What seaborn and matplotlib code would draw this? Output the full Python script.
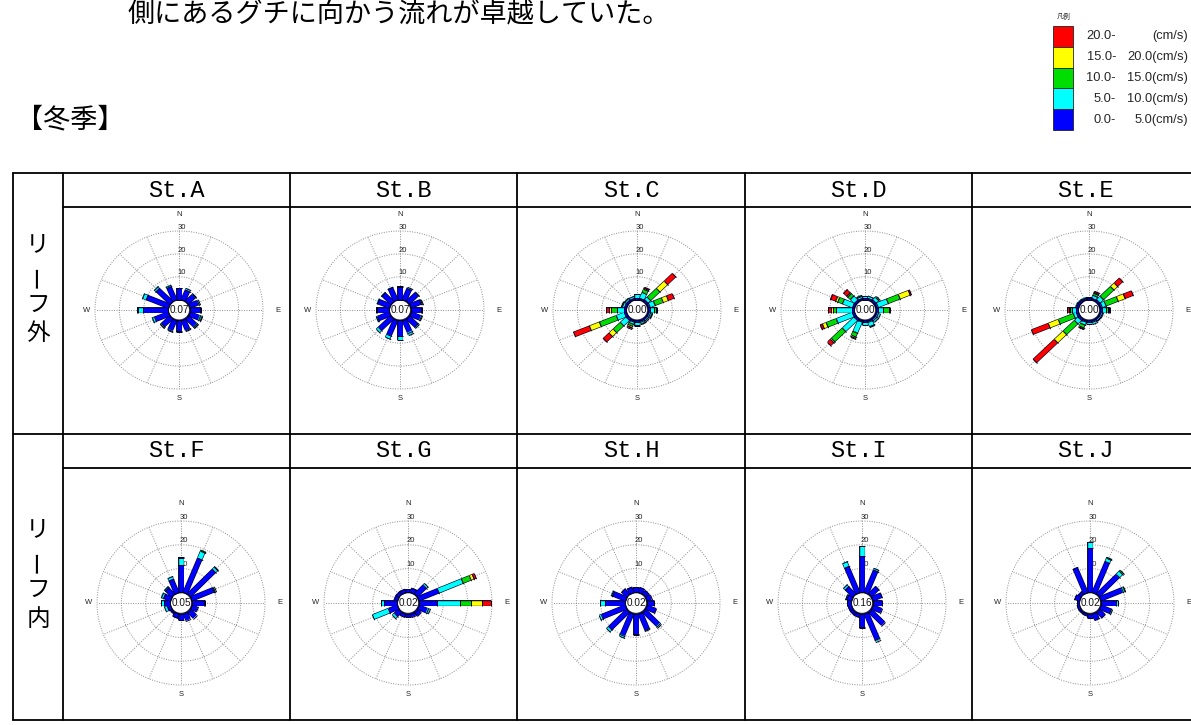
import numpy as np
import pandas as pd
import seaborn as sns
import matplotlib
matplotlib.use("Agg")
import matplotlib.pyplot as plt
from matplotlib import patheffects as pe
from matplotlib.lines import Line2D
from matplotlib.patches import Rectangle

# ---------------- data ----------------
directions = ["N", "NNE", "NE", "ENE", "E", "ESE", "SE", "SSE",
              "S", "SSW", "SW", "WSW", "W", "WNW", "NW", "NNW"]
speed_classes = ["0.0-5.0", "5.0-10.0", "10.0-15.0", "15.0-20.0", "20.0-"]
legend_left = ["20.0-", "15.0-", "10.0-", "5.0-", "0.0-"]
legend_right = ["(cm/s)", "20.0(cm/s)", "15.0(cm/s)", "10.0(cm/s)", "5.0(cm/s)"]
stations = ["St.A", "St.B", "St.C", "St.D", "St.E",
            "St.F", "St.G", "St.H", "St.I", "St.J"]
calm_values = ["0.07", "0.07", "0.00", "0.00", "0.00",
               "0.05", "0.02", "0.02", "0.16", "0.02"]
row_labels = ["リーフ外", "リーフ内"]
rtick_values = [10, 20, 30]

Z = [0] * 16
st_a = [[4.9, 4.7, 4.0, 3.8, 4.1, 4.3, 4.8, 4.7, 4.7, 4.8, 4.9, 6.0, 10.1, 9.9, 8.0, 6.2],
        [.4, .5, .5, .5, .6, .8, .6, .3, .3, .4, .5, 1.2, 2.4, 1.6, 1.0, .8],
        [0, 0, 0, 0, 0, .2, .1, 0, 0, 0, .1, 0, .1, 0, 0, 0], Z, Z]
st_b = [[5.7, 5.3, 5.2, 4.6, 4.0, 4.4, 5.0, 5.7, 6.8, 7.3, 7.1, 5.2, 4.8, 5.2, 5.1, 5.7],
        [.4, .4, .4, .4, .5, .6, .6, 1.2, 1.6, 1.6, 1.2, .6, .4, .3, .3, .3],
        [0, 0, 0, .1, .1, 0, 0, 0, 0, 0, 0, 0, 0, 0, 0, 0], Z, Z]
st_c = [[.8] * 16,
        [1.5, 2.5, 1.6, 2.2, 1.8, .8, .6, .8, 1.2, 1.0, 3.5, 3.7, 3.0, 1.0, .8, .8],
        [.4, 1.5, 5.4, 3.5, .5, .2, 0, .2, .3, 1.0, 4.0, 7.5, 2.2, .3, .2, 0],
        [0, .6, 4.6, 2.5, .4, 0, 0, 0, 0, .5, 2.5, 4.4, 1.0, 0, 0, 0],
        [0, .4, 4.6, 2.5, .3, 0, 0, 0, 0, .5, 3.5, 6.9, 1.3, 0, 0, 0]]
st_d = [[.8] * 16,
        [.6, 1.0, 1.8, 4.6, 2.0, 1.0, 1.0, 2.0, 1.2, 5.0, 6.8, 7.3, 6.5, 4.5, 2.5, 1.0],
        [0, 0, .2, 5.4, 2.6, 0, 0, .3, 0, 2.0, 6.6, 4.5, 1.2, 2.0, 1.5, .3],
        [0, 0, 0, 4.3, 0, 0, 0, 0, 0, .6, .5, 1.5, 1.0, 1.0, .3, 0],
        [0, 0, 0, .6, .5, 0, 0, 0, 0, .2, 1.5, 1.0, 1.0, 2.3, 2.0, 0]]
st_e = [[.8] * 16,
        [.5, 1.5, 2.0, 1.9, 1.5, .5, .5, .8, .8, 1.2, 2.1, 1.2, 1.5, .5, .4, .4],
        [0, .8, 6.0, 5.3, 1.0, 0, 0, 0, 0, 1.5, 6.8, 6.7, 1.2, 0, 0, 0],
        [0, .3, 2.4, 3.0, .3, 0, 0, 0, 0, .3, 5.2, 4.5, .4, 0, 0, 0],
        [0, .5, 3.0, 3.7, .5, 0, 0, 0, 0, .4, 12.2, 7.5, .6, 0, 0, 0]]
st_f = [[11.3, 15.7, 14.7, 9.8, 4.8, 2.6, 3.6, 3.1, 2.5, 2.0, 1.0, 1.5, 2.5, 3.0, 3.8, 6.2],
        [3.1, 3.0, 1.2, .4, .7, 0, 0, 0, 0, 0, 0, 1.0, 1.2, 1.0, .5, 1.0],
        [.6, .6, .2, .2, 0, 0, 0, 0, 0, 0, 0, 0, 0, 0, 0, 0], Z, Z]
st_g = [[1.5, 2.0, 5.2, 9.0, 7.4, 3.8, 2.0, 1.5, 1.5, 1.5, 2.5, 3.8, 5.3, 1.5, 1.5, 1.5],
        [0, 0, .9, 10.5, 9.3, 1.0, 0, 0, 0, 0, 1.1, 7.1, 1.2, 0, 0, 0],
        [0, 0, 0, 3.4, 4.8, 0, 0, 0, 0, 0, 0, 0, 0, 0, 0, 0],
        [0, 0, 0, 1.5, 4.4, 0, 0, 0, 0, 0, 0, 0, 0, 0, 0, 0],
        [0, 0, 0, 1.0, 3.8, 0, 0, 0, 0, 0, 0, 0, 0, 0, 0, 0]]
st_h = [[2.1, 2.2, 2.0, 2.0, 2.8, 4.1, 8.3, 7.5, 8.6, 10.0, 10.6, 10.5, 8.4, 5.8, 3.0, 2.5],
        [0, 0, 0, 0, 0, 0, .6, .2, .3, 1.0, 1.0, 1.0, 2.0, .5, 0, 0], Z, Z, Z]
st_i = [[15.2, 10.3, 4.5, 4.1, 3.7, 4.0, 7.8, 12.0, 5.6, 1.5, 1.5, 1.5, 1.8, 2.0, 4.5, 12.0],
        [4.3, .7, 0, 0, 0, 0, 0, .6, .6, 0, 0, 0, 0, .4, .9, 2.0], Z, Z, Z]
st_j = [[18.8, 14.0, 11.5, 9.6, 6.0, 4.6, 3.3, 3.0, 1.8, 1.0, 1.0, 1.0, 1.0, 2.0, 1.5, 11.4],
        [2.5, 1.5, 2.0, .8, 1.1, .4, 0, 0, 0, 0, 0, 0, 0, 0, 0, 0],
        [0, .5, .6, .4, 0, 0, 0, 0, 0, 0, 0, 0, 0, 0, 0, 0], Z, Z]
station_data = [st_a, st_b, st_c, st_d, st_e, st_f, st_g, st_h, st_i, st_j]

records = []
for s, arr in zip(stations, station_data):
    for k, cls in enumerate(speed_classes):
        for d, dname in enumerate(directions):
            records.append((s, dname, d, k, cls, arr[k][d]))
df = pd.DataFrame(records, columns=["station", "dir", "dir_idx", "cls_idx", "cls", "pct"])

# ---------------- style ----------------
sns.set_theme(style="white")
plt.rcParams["font.family"] = ["Noto Sans CJK JP", "DejaVu Sans"]
palette = sns.color_palette(["#0000FF", "#00FFFF", "#00DD00", "#FFFF00", "#FF0000"])
EDGE = "#000020"
GRID = "#8c8c8c"

W, H = 1191, 725
fig = plt.figure(figsize=(W / 100, H / 100), dpi=100)
fig.patch.set_facecolor("white")


def fx(x):
    return x / W


def fy(y):
    return 1 - y / H


# ---------------- table frame ----------------
def hline(y, x0, x1, lw=1.3):
    fig.add_artist(Line2D([fx(x0), fx(x1)], [fy(y), fy(y)], color="black", lw=lw))


def vline(x, y0, y1, lw=1.3):
    fig.add_artist(Line2D([fx(x), fx(x)], [fy(y0), fy(y1)], color="black", lw=lw))


hline(173, 13, 1191)
hline(207, 63, 1191)
hline(434, 13, 1191)
hline(468, 63, 1191)
hline(720, 13, 1191)
vline(13, 173, 720)
for xv in [63, 290, 517, 745, 972]:
    vline(xv, 173, 720)

# texts
fig.text(fx(128), fy(14), "側にあるグチに向かう流れが卓越していた。", fontsize=19.5,
         ha="left", va="center", color="black")
fig.text(fx(16), fy(120), "【冬季】", fontsize=19.5, ha="left", va="center", color="black")

col_centers = [176.5, 403.5, 631, 858.5, 1085]
header_y = [190, 451]
for i, s in enumerate(stations):
    r, c = divmod(i, 5)
    fig.text(fx(col_centers[c]), fy(header_y[r]), s, fontsize=17, ha="center", va="center",
             family="Liberation Mono", color="black")

char_y = [[245, 276, 305, 334], [530, 561, 590, 619]]
for r, lab in enumerate(row_labels):
    for ch, yy in zip(lab, char_y[r]):
        rot = 90 if ch == "ー" else 0
        fig.text(fx(38), fy(yy), ch, fontsize=17, ha="center", va="center",
                 rotation=rot, color="black")

# ---------------- legend ----------------
fig.text(fx(1064), fy(17), "凡例", fontsize=5, ha="center", va="center")
leg_colors = list(palette)[::-1]
for i in range(5):
    y0 = 26 + i * 20.8
    fig.add_artist(Rectangle((fx(1053), fy(y0 + 20.8)), fx(20), 20.8 / H,
                             facecolor=leg_colors[i], edgecolor="#222222", lw=0.6))
    yc = y0 + 10.4
    fig.text(fx(1116), fy(yc), legend_left[i], fontsize=9.3, ha="right", va="center",
             family="Liberation Sans")
    fig.text(fx(1188), fy(yc), legend_right[i], fontsize=9.3, ha="right", va="center",
             family="Liberation Sans")

# ---------------- roses ----------------
HOLE = 4.5
HW = 84
centers = [(179, 310), (400, 310), (637, 310), (865, 310), (1089, 310),
           (181, 603), (408, 603), (636, 603), (862, 603), (1090, 603)]
half_h = [79, 82]
theta_dirs = np.deg2rad(np.arange(16) * 22.5)
full = np.linspace(0, 2 * np.pi, 361)

for i, s in enumerate(stations):
    cx, cy = centers[i]
    hh = half_h[i // 5]
    ax = fig.add_axes([fx(cx - HW), fy(cy + hh), 2 * HW / W, 2 * hh / H], projection="polar")
    ax.set_theta_zero_location("N")
    ax.set_theta_direction(-1)
    ax.set_rorigin(-HOLE)
    ax.set_ylim(0, 30)
    ax.set_aspect("auto")
    ax.set_facecolor("none")
    ax.spines["polar"].set_visible(False)
    ax.set_xticks(theta_dirs)
    ax.set_xticklabels([])
    ax.set_yticks([])
    ax.xaxis.grid(True, color=GRID, ls=(0, (1, 1.5)), lw=0.7)
    for rv in rtick_values:
        ax.plot(full, np.full_like(full, rv), color=GRID, ls=(0, (1, 1.5)), lw=0.7,
                clip_on=False, zorder=1)
        ax.annotate(str(rv), xy=(0, rv), xytext=(1.8, 2.8), textcoords="offset points",
                    ha="center", va="center", fontsize=5.5, family="Liberation Sans",
                    color="#222222")

    sub = df[df.station == s]
    for d, grp in sub.groupby("dir_idx"):
        th = theta_dirs[d]
        vals = grp.sort_values("cls_idx")["pct"].to_numpy()
        cum = np.concatenate([[0], np.cumsum(vals)])
        bounds = [0.0]
        for k, v in enumerate(vals):
            if v <= 0:
                continue
            ax.plot([th, th], [cum[k], cum[k + 1]], color=palette[k], lw=3.3,
                    solid_capstyle="butt", zorder=3, clip_on=False,
                    path_effects=[pe.Stroke(linewidth=4.2, foreground=EDGE), pe.Normal()])
            bounds.append(cum[k + 1])
        rot = 90 - np.rad2deg(th)
        ax.plot([th] * len(bounds), bounds, ls="none", marker=(2, 0, rot), ms=4.2,
                mew=0.7, mec=EDGE, zorder=4, clip_on=False)

    ax.text(0.5, 0.5, calm_values[i], transform=ax.transAxes, ha="center", va="center",
            fontsize=7.2, family="Liberation Sans", color="#111111", zorder=6)
    lab_kw = dict(ha="center", va="center", fontsize=5.5, family="Liberation Sans",
                  color="#222222")
    ax.text(0, 37.2, "N", **lab_kw)
    ax.text(np.pi / 2, 36.2, "E", **lab_kw)
    ax.text(np.pi, 34.0, "S", **lab_kw)
    ax.text(3 * np.pi / 2, 33.5, "W", **lab_kw)
    ax.annotate("(%)", xy=(0, 37.2), xytext=(8, 3), textcoords="offset points",
                ha="center", va="center", fontsize=4.5, family="Liberation Sans",
                color="#222222")

fig.savefig("out.png", dpi=100, facecolor="white")
